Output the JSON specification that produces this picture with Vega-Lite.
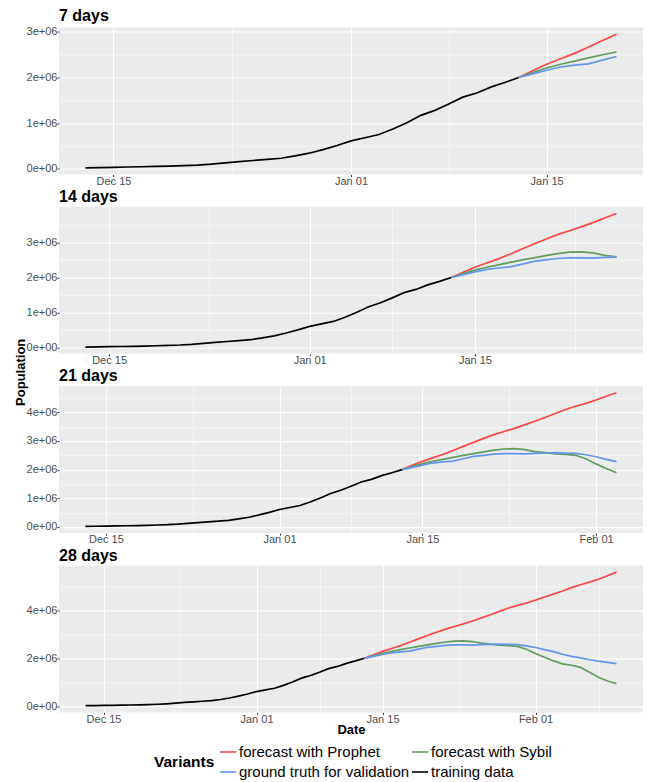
{
  "$schema": "https://vega.github.io/schema/vega-lite/v6.json",
  "padding": {"left": 14, "top": 7.5, "right": 7, "bottom": 2},
  "datasets": {
    "series": [
      {"variant": "training data", "date": "2020-12-13", "value": 20000},
      {"variant": "training data", "date": "2020-12-14", "value": 25000},
      {"variant": "training data", "date": "2020-12-15", "value": 31000},
      {"variant": "training data", "date": "2020-12-16", "value": 37000},
      {"variant": "training data", "date": "2020-12-17", "value": 43000},
      {"variant": "training data", "date": "2020-12-18", "value": 50000},
      {"variant": "training data", "date": "2020-12-19", "value": 58000},
      {"variant": "training data", "date": "2020-12-20", "value": 68000},
      {"variant": "training data", "date": "2020-12-21", "value": 80000},
      {"variant": "training data", "date": "2020-12-22", "value": 100000},
      {"variant": "training data", "date": "2020-12-23", "value": 128000},
      {"variant": "training data", "date": "2020-12-24", "value": 155000},
      {"variant": "training data", "date": "2020-12-25", "value": 180000},
      {"variant": "training data", "date": "2020-12-26", "value": 205000},
      {"variant": "training data", "date": "2020-12-27", "value": 230000},
      {"variant": "training data", "date": "2020-12-28", "value": 280000},
      {"variant": "training data", "date": "2020-12-29", "value": 340000},
      {"variant": "training data", "date": "2020-12-30", "value": 420000},
      {"variant": "training data", "date": "2020-12-31", "value": 510000},
      {"variant": "training data", "date": "2021-01-01", "value": 610000},
      {"variant": "training data", "date": "2021-01-02", "value": 680000},
      {"variant": "training data", "date": "2021-01-03", "value": 750000},
      {"variant": "training data", "date": "2021-01-04", "value": 870000},
      {"variant": "training data", "date": "2021-01-05", "value": 1010000},
      {"variant": "training data", "date": "2021-01-06", "value": 1170000},
      {"variant": "training data", "date": "2021-01-07", "value": 1280000},
      {"variant": "training data", "date": "2021-01-08", "value": 1420000},
      {"variant": "training data", "date": "2021-01-09", "value": 1570000},
      {"variant": "training data", "date": "2021-01-10", "value": 1660000},
      {"variant": "training data", "date": "2021-01-11", "value": 1790000},
      {"variant": "training data", "date": "2021-01-12", "value": 1890000},
      {"variant": "training data", "date": "2021-01-13", "value": 2000000},

      {"variant": "forecast with Prophet", "date": "2021-01-13", "value": 2000000},
      {"variant": "forecast with Prophet", "date": "2021-01-14", "value": 2150000},
      {"variant": "forecast with Prophet", "date": "2021-01-15", "value": 2290000},
      {"variant": "forecast with Prophet", "date": "2021-01-16", "value": 2410000},
      {"variant": "forecast with Prophet", "date": "2021-01-17", "value": 2530000},
      {"variant": "forecast with Prophet", "date": "2021-01-18", "value": 2670000},
      {"variant": "forecast with Prophet", "date": "2021-01-19", "value": 2810000},
      {"variant": "forecast with Prophet", "date": "2021-01-20", "value": 2950000},
      {"variant": "forecast with Prophet", "date": "2021-01-21", "value": 3090000},
      {"variant": "forecast with Prophet", "date": "2021-01-22", "value": 3220000},
      {"variant": "forecast with Prophet", "date": "2021-01-23", "value": 3330000},
      {"variant": "forecast with Prophet", "date": "2021-01-24", "value": 3440000},
      {"variant": "forecast with Prophet", "date": "2021-01-25", "value": 3560000},
      {"variant": "forecast with Prophet", "date": "2021-01-26", "value": 3690000},
      {"variant": "forecast with Prophet", "date": "2021-01-27", "value": 3820000},
      {"variant": "forecast with Prophet", "date": "2021-01-28", "value": 3960000},
      {"variant": "forecast with Prophet", "date": "2021-01-29", "value": 4100000},
      {"variant": "forecast with Prophet", "date": "2021-01-30", "value": 4210000},
      {"variant": "forecast with Prophet", "date": "2021-01-31", "value": 4310000},
      {"variant": "forecast with Prophet", "date": "2021-02-01", "value": 4430000},
      {"variant": "forecast with Prophet", "date": "2021-02-02", "value": 4560000},
      {"variant": "forecast with Prophet", "date": "2021-02-03", "value": 4680000},
      {"variant": "forecast with Prophet", "date": "2021-02-04", "value": 4810000},
      {"variant": "forecast with Prophet", "date": "2021-02-05", "value": 4950000},
      {"variant": "forecast with Prophet", "date": "2021-02-06", "value": 5070000},
      {"variant": "forecast with Prophet", "date": "2021-02-07", "value": 5180000},
      {"variant": "forecast with Prophet", "date": "2021-02-08", "value": 5300000},
      {"variant": "forecast with Prophet", "date": "2021-02-09", "value": 5450000},
      {"variant": "forecast with Prophet", "date": "2021-02-10", "value": 5600000},

      {"variant": "forecast with Sybil", "date": "2021-01-13", "value": 2000000},
      {"variant": "forecast with Sybil", "date": "2021-01-14", "value": 2110000},
      {"variant": "forecast with Sybil", "date": "2021-01-15", "value": 2210000},
      {"variant": "forecast with Sybil", "date": "2021-01-16", "value": 2290000},
      {"variant": "forecast with Sybil", "date": "2021-01-17", "value": 2360000},
      {"variant": "forecast with Sybil", "date": "2021-01-18", "value": 2430000},
      {"variant": "forecast with Sybil", "date": "2021-01-19", "value": 2500000},
      {"variant": "forecast with Sybil", "date": "2021-01-20", "value": 2560000},
      {"variant": "forecast with Sybil", "date": "2021-01-21", "value": 2620000},
      {"variant": "forecast with Sybil", "date": "2021-01-22", "value": 2680000},
      {"variant": "forecast with Sybil", "date": "2021-01-23", "value": 2720000},
      {"variant": "forecast with Sybil", "date": "2021-01-24", "value": 2730000},
      {"variant": "forecast with Sybil", "date": "2021-01-25", "value": 2700000},
      {"variant": "forecast with Sybil", "date": "2021-01-26", "value": 2630000},
      {"variant": "forecast with Sybil", "date": "2021-01-27", "value": 2590000},
      {"variant": "forecast with Sybil", "date": "2021-01-28", "value": 2550000},
      {"variant": "forecast with Sybil", "date": "2021-01-29", "value": 2530000},
      {"variant": "forecast with Sybil", "date": "2021-01-30", "value": 2500000},
      {"variant": "forecast with Sybil", "date": "2021-01-31", "value": 2380000},
      {"variant": "forecast with Sybil", "date": "2021-02-01", "value": 2200000},
      {"variant": "forecast with Sybil", "date": "2021-02-02", "value": 2040000},
      {"variant": "forecast with Sybil", "date": "2021-02-03", "value": 1890000},
      {"variant": "forecast with Sybil", "date": "2021-02-04", "value": 1770000},
      {"variant": "forecast with Sybil", "date": "2021-02-05", "value": 1710000},
      {"variant": "forecast with Sybil", "date": "2021-02-06", "value": 1620000},
      {"variant": "forecast with Sybil", "date": "2021-02-07", "value": 1420000},
      {"variant": "forecast with Sybil", "date": "2021-02-08", "value": 1210000},
      {"variant": "forecast with Sybil", "date": "2021-02-09", "value": 1050000},
      {"variant": "forecast with Sybil", "date": "2021-02-10", "value": 940000},

      {"variant": "ground truth for validation", "date": "2021-01-13", "value": 2000000},
      {"variant": "ground truth for validation", "date": "2021-01-14", "value": 2080000},
      {"variant": "ground truth for validation", "date": "2021-01-15", "value": 2160000},
      {"variant": "ground truth for validation", "date": "2021-01-16", "value": 2230000},
      {"variant": "ground truth for validation", "date": "2021-01-17", "value": 2270000},
      {"variant": "ground truth for validation", "date": "2021-01-18", "value": 2300000},
      {"variant": "ground truth for validation", "date": "2021-01-19", "value": 2380000},
      {"variant": "ground truth for validation", "date": "2021-01-20", "value": 2460000},
      {"variant": "ground truth for validation", "date": "2021-01-21", "value": 2500000},
      {"variant": "ground truth for validation", "date": "2021-01-22", "value": 2540000},
      {"variant": "ground truth for validation", "date": "2021-01-23", "value": 2560000},
      {"variant": "ground truth for validation", "date": "2021-01-24", "value": 2560000},
      {"variant": "ground truth for validation", "date": "2021-01-25", "value": 2550000},
      {"variant": "ground truth for validation", "date": "2021-01-26", "value": 2570000},
      {"variant": "ground truth for validation", "date": "2021-01-27", "value": 2580000},
      {"variant": "ground truth for validation", "date": "2021-01-28", "value": 2590000},
      {"variant": "ground truth for validation", "date": "2021-01-29", "value": 2580000},
      {"variant": "ground truth for validation", "date": "2021-01-30", "value": 2570000},
      {"variant": "ground truth for validation", "date": "2021-01-31", "value": 2520000},
      {"variant": "ground truth for validation", "date": "2021-02-01", "value": 2450000},
      {"variant": "ground truth for validation", "date": "2021-02-02", "value": 2360000},
      {"variant": "ground truth for validation", "date": "2021-02-03", "value": 2280000},
      {"variant": "ground truth for validation", "date": "2021-02-04", "value": 2170000},
      {"variant": "ground truth for validation", "date": "2021-02-05", "value": 2080000},
      {"variant": "ground truth for validation", "date": "2021-02-06", "value": 2020000},
      {"variant": "ground truth for validation", "date": "2021-02-07", "value": 1940000},
      {"variant": "ground truth for validation", "date": "2021-02-08", "value": 1880000},
      {"variant": "ground truth for validation", "date": "2021-02-09", "value": 1830000},
      {"variant": "ground truth for validation", "date": "2021-02-10", "value": 1780000}
    ]
  },
  "data": {"name": "series"},
  "bounds": "flush",
  "spacing": 32.3,
  "vconcat": [
    {
      "title": "7 days",
      "width": 584,
      "height": 147,
      "transform": [{"filter": {"field": "date", "lte": {"year": 2021, "month": 1, "date": 20, "utc": true}}}],
      "mark": {"type": "line", "strokeWidth": 1.7},
      "encoding": {
        "x": {
          "field": "date", "type": "temporal", "title": null,
          "scale": {"type": "utc", "nice": false, "padding": 26.5},
          "axis": {
            "values": [
              {"year": 2020, "month": 12, "date": 15, "utc": true},
              {"year": 2020, "month": 12, "date": 23, "hours": 12, "utc": true},
              {"year": 2021, "month": 1, "date": 1, "utc": true},
              {"year": 2021, "month": 1, "date": 8, "utc": true},
              {"year": 2021, "month": 1, "date": 15, "utc": true}
            ],
            "labelExpr": "(utcdate(datum.value) == 1 || utcdate(datum.value) == 15) ? utcFormat(datum.value, '%b %d') : ''",
            "gridWidth": {"condition": {"test": "utcdate(datum.value) == 1 || utcdate(datum.value) == 15", "value": 1.1}, "value": 0.55},
            "tickOpacity": {"condition": {"test": "utcdate(datum.value) == 1 || utcdate(datum.value) == 15", "value": 1}, "value": 0}
          }
        },
        "y": {
          "field": "value", "type": "quantitative", "title": null,
          "scale": {"zero": false, "nice": false, "padding": 6.7},
          "axis": {
            "values": [0, 500000, 1000000, 1500000, 2000000, 2500000, 3000000],
            "labelExpr": "datum.value % 1000000 == 0 ? (datum.value == 0 ? '0e+00' : (datum.value / 1000000) + 'e+06') : ''",
            "gridWidth": {"condition": {"test": "datum.value % 1000000 == 0", "value": 1.1}, "value": 0.55},
            "tickOpacity": {"condition": {"test": "datum.value % 1000000 == 0", "value": 1}, "value": 0}
          }
        },
        "color": {"field": "variant", "type": "nominal", "title": "Variants"}
      }
    },
    {
      "title": "14 days",
      "width": 584,
      "height": 147,
      "transform": [{"filter": {"field": "date", "lte": {"year": 2021, "month": 1, "date": 27, "utc": true}}}],
      "mark": {"type": "line", "strokeWidth": 1.7},
      "encoding": {
        "x": {
          "field": "date", "type": "temporal", "title": null,
          "scale": {"type": "utc", "nice": false, "padding": 26.5},
          "axis": {
            "values": [
              {"year": 2020, "month": 12, "date": 15, "utc": true},
              {"year": 2020, "month": 12, "date": 23, "hours": 12, "utc": true},
              {"year": 2021, "month": 1, "date": 1, "utc": true},
              {"year": 2021, "month": 1, "date": 8, "utc": true},
              {"year": 2021, "month": 1, "date": 15, "utc": true},
              {"year": 2021, "month": 1, "date": 23, "hours": 12, "utc": true}
            ],
            "labelExpr": "(utcdate(datum.value) == 1 || utcdate(datum.value) == 15) ? utcFormat(datum.value, '%b %d') : ''",
            "gridWidth": {"condition": {"test": "utcdate(datum.value) == 1 || utcdate(datum.value) == 15", "value": 1.1}, "value": 0.55},
            "tickOpacity": {"condition": {"test": "utcdate(datum.value) == 1 || utcdate(datum.value) == 15", "value": 1}, "value": 0}
          }
        },
        "y": {
          "field": "value", "type": "quantitative",
          "title": "Population",
          "scale": {"zero": false, "nice": false, "padding": 6.7},
          "axis": {
            "values": [0, 500000, 1000000, 1500000, 2000000, 2500000, 3000000, 3500000],
            "labelExpr": "datum.value % 1000000 == 0 ? (datum.value == 0 ? '0e+00' : (datum.value / 1000000) + 'e+06') : ''",
            "gridWidth": {"condition": {"test": "datum.value % 1000000 == 0", "value": 1.1}, "value": 0.55},
            "tickOpacity": {"condition": {"test": "datum.value % 1000000 == 0", "value": 1}, "value": 0},
            "titleX": -35,
            "titleY": 165,
            "titleAngle": 270,
            "titleAlign": "center",
            "titleBaseline": "alphabetic"
          }
        },
        "color": {"field": "variant", "type": "nominal", "title": "Variants"}
      }
    },
    {
      "title": "21 days",
      "width": 584,
      "height": 147,
      "transform": [{"filter": {"field": "date", "lte": {"year": 2021, "month": 2, "date": 3, "utc": true}}}],
      "mark": {"type": "line", "strokeWidth": 1.7},
      "encoding": {
        "x": {
          "field": "date", "type": "temporal", "title": null,
          "scale": {"type": "utc", "nice": false, "padding": 26.5},
          "axis": {
            "values": [
              {"year": 2020, "month": 12, "date": 15, "utc": true},
              {"year": 2020, "month": 12, "date": 23, "hours": 12, "utc": true},
              {"year": 2021, "month": 1, "date": 1, "utc": true},
              {"year": 2021, "month": 1, "date": 8, "utc": true},
              {"year": 2021, "month": 1, "date": 15, "utc": true},
              {"year": 2021, "month": 1, "date": 23, "hours": 12, "utc": true},
              {"year": 2021, "month": 2, "date": 1, "utc": true}
            ],
            "labelExpr": "(utcdate(datum.value) == 1 || utcdate(datum.value) == 15) ? utcFormat(datum.value, '%b %d') : ''",
            "gridWidth": {"condition": {"test": "utcdate(datum.value) == 1 || utcdate(datum.value) == 15", "value": 1.1}, "value": 0.55},
            "tickOpacity": {"condition": {"test": "utcdate(datum.value) == 1 || utcdate(datum.value) == 15", "value": 1}, "value": 0}
          }
        },
        "y": {
          "field": "value", "type": "quantitative", "title": null,
          "scale": {"zero": false, "nice": false, "padding": 6.7},
          "axis": {
            "values": [0, 500000, 1000000, 1500000, 2000000, 2500000, 3000000, 3500000, 4000000, 4500000],
            "labelExpr": "datum.value % 1000000 == 0 ? (datum.value == 0 ? '0e+00' : (datum.value / 1000000) + 'e+06') : ''",
            "gridWidth": {"condition": {"test": "datum.value % 1000000 == 0", "value": 1.1}, "value": 0.55},
            "tickOpacity": {"condition": {"test": "datum.value % 1000000 == 0", "value": 1}, "value": 0}
          }
        },
        "color": {"field": "variant", "type": "nominal", "title": "Variants"}
      }
    },
    {
      "title": "28 days",
      "width": 584,
      "height": 147,
      "mark": {"type": "line", "strokeWidth": 1.7},
      "encoding": {
        "x": {
          "field": "date", "type": "temporal", "title": "Date",
          "scale": {"type": "utc", "nice": false, "padding": 26.5},
          "axis": {
            "values": [
              {"year": 2020, "month": 12, "date": 15, "utc": true},
              {"year": 2020, "month": 12, "date": 23, "hours": 12, "utc": true},
              {"year": 2021, "month": 1, "date": 1, "utc": true},
              {"year": 2021, "month": 1, "date": 8, "utc": true},
              {"year": 2021, "month": 1, "date": 15, "utc": true},
              {"year": 2021, "month": 1, "date": 23, "hours": 12, "utc": true},
              {"year": 2021, "month": 2, "date": 1, "utc": true},
              {"year": 2021, "month": 2, "date": 8, "utc": true}
            ],
            "labelExpr": "(utcdate(datum.value) == 1 || utcdate(datum.value) == 15) ? utcFormat(datum.value, '%b %d') : ''",
            "gridWidth": {"condition": {"test": "utcdate(datum.value) == 1 || utcdate(datum.value) == 15", "value": 1.1}, "value": 0.55},
            "tickOpacity": {"condition": {"test": "utcdate(datum.value) == 1 || utcdate(datum.value) == 15", "value": 1}, "value": 0},
            "titlePadding": -1
          }
        },
        "y": {
          "field": "value", "type": "quantitative", "title": null,
          "scale": {"zero": false, "nice": false, "padding": 6.7},
          "axis": {
            "values": [0, 1000000, 2000000, 3000000, 4000000, 5000000],
            "labelExpr": "datum.value % 2000000 == 0 ? (datum.value == 0 ? '0e+00' : (datum.value / 1000000) + 'e+06') : ''",
            "gridWidth": {"condition": {"test": "datum.value % 2000000 == 0", "value": 1.1}, "value": 0.55},
            "tickOpacity": {"condition": {"test": "datum.value % 2000000 == 0", "value": 1}, "value": 0}
          }
        },
        "color": {
          "field": "variant", "type": "nominal", "title": "Variants",
          "legend": {"orient": "none", "legendX": 95, "legendY": 715.5}
        }
      }
    }
  ],
  "resolve": {"scale": {"color": "shared"}},
  "config": {
    "font": "Liberation Sans",
    "view": {"fill": "#EBEBEB", "stroke": null},
    "range": {
      "category": ["#FF4545", "#609C5E", "#6495ED", "#000000"]
    },
    "axis": {
      "domain": false,
      "gridColor": "#FFFFFF",
      "gridOpacity": 1,
      "labelColor": "#4D4D4D",
      "labelFontSize": 11,
      "labelPadding": -1.2,
      "tickColor": "#333333",
      "tickSize": 2,
      "titleColor": "#000000",
      "titleFontSize": 13,
      "titleFontWeight": "bold"
    },
    "axisY": {"labelPadding": 0},
    "title": {
      "anchor": "start",
      "frame": "group",
      "fontSize": 16,
      "fontWeight": "bold",
      "color": "#000000",
      "baseline": "alphabetic",
      "offset": 1.8
    },
    "legend": {
      "direction": "horizontal",
      "columns": 2,
      "titleOrient": "left",
      "titleAnchor": "middle",
      "titleBaseline": "middle",
      "titleFontSize": 15.5,
      "titleFontWeight": "bold",
      "titleColor": "#000000",
      "titlePadding": 4,
      "labelFontSize": 15,
      "labelColor": "#000000",
      "labelLimit": 0,
      "labelOffset": 2,
      "symbolType": "stroke",
      "symbolStrokeWidth": 1.6,
      "symbolSize": 260,
      "rowPadding": 3,
      "columnPadding": -2
    }
  }
}
